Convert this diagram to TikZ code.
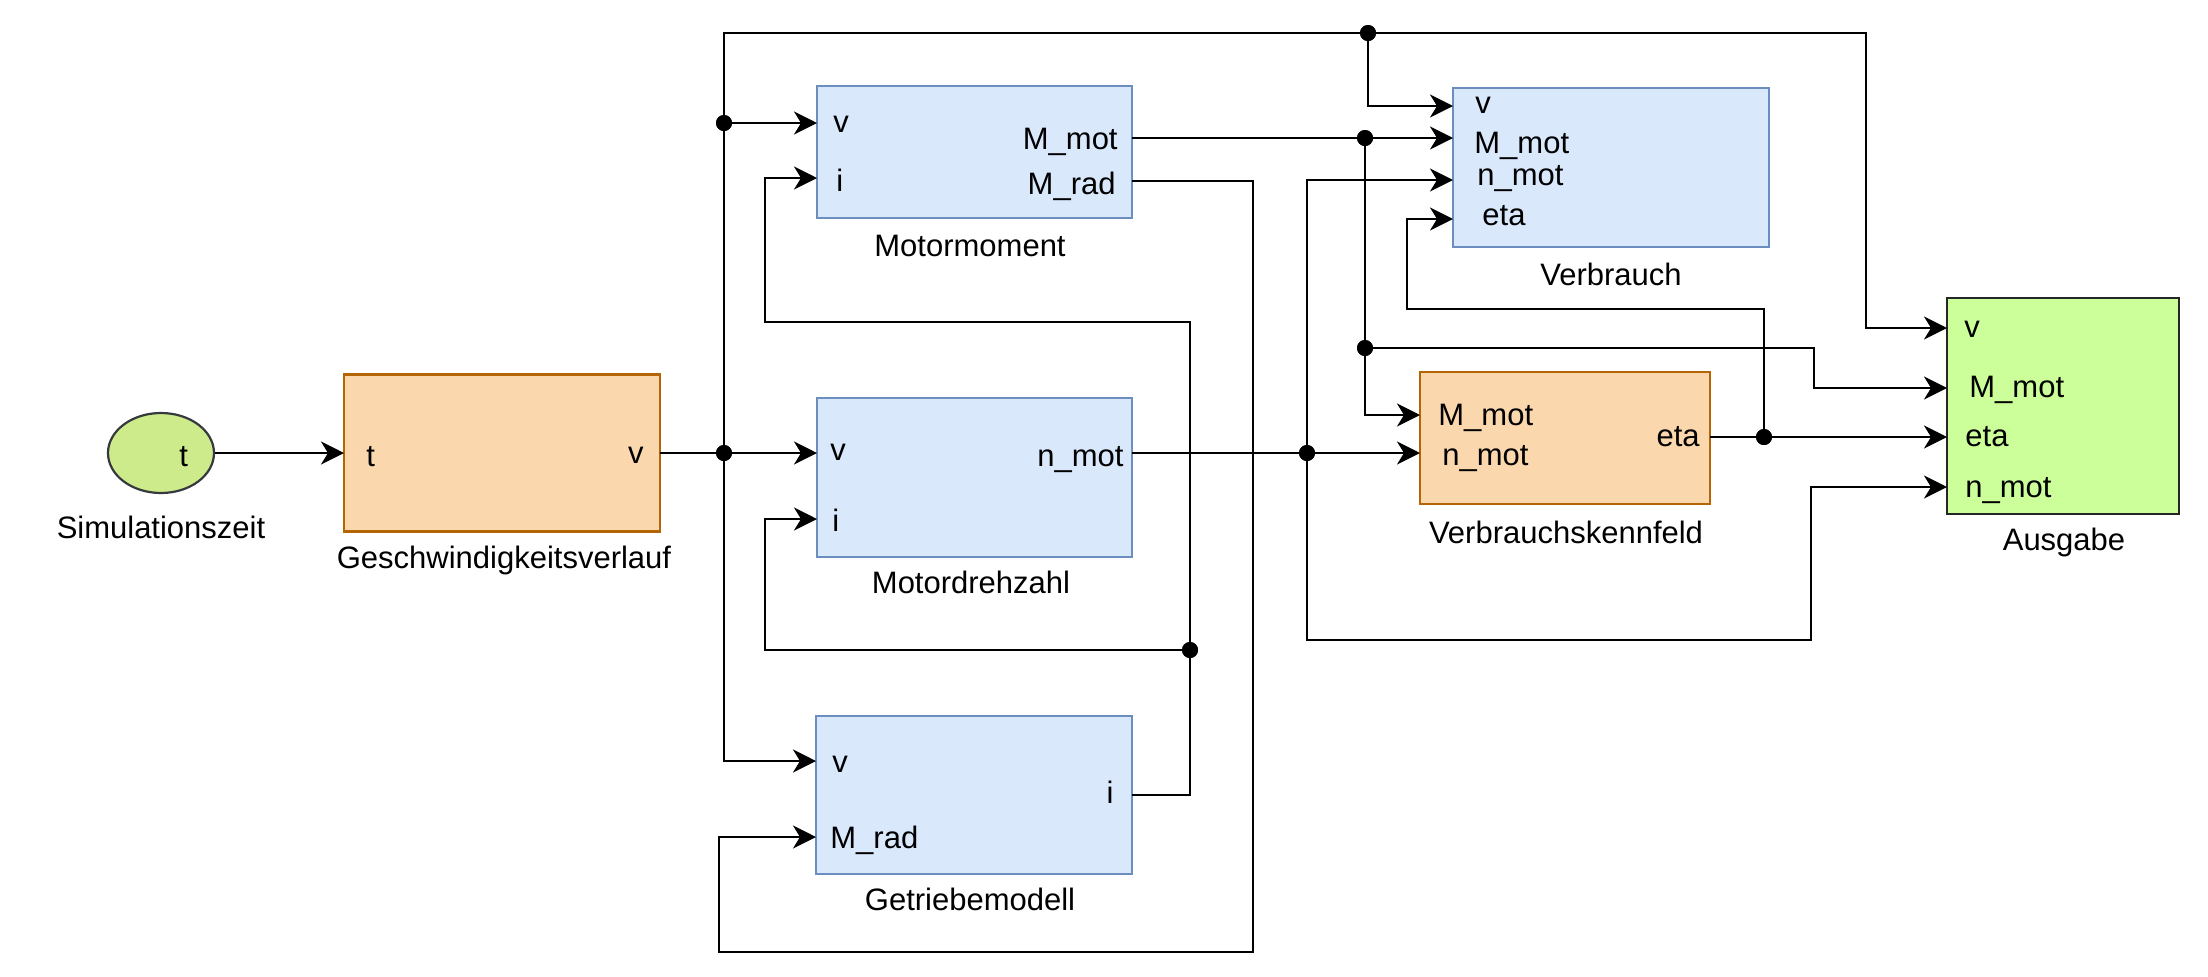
\documentclass[tikz,border=0pt]{standalone}
\usepackage{fontspec}
\setmainfont{Liberation Sans}
\usetikzlibrary{arrows.meta,shapes.geometric}
\definecolor{bluefill}{HTML}{DAE8FC}
\definecolor{bluedraw}{HTML}{6C8EBF}
\definecolor{orfill}{HTML}{FAD7AC}
\definecolor{ordraw}{HTML}{B46504}
\definecolor{elfill}{HTML}{CDEB8B}
\definecolor{eldraw}{HTML}{36393D}
\definecolor{agfill}{HTML}{CCFF99}
\definecolor{agdraw}{HTML}{262626}
\begin{document}
\begin{tikzpicture}[x=0.5pt,y=-0.5pt,
  font=\fontsize{15.5}{18}\selectfont,
  box/.style={rectangle,inner sep=0pt,outer sep=0pt,line width=1.1pt},
  bluebox/.style={box,fill=bluefill,draw=bluedraw},
  orbox/.style={box,fill=orfill,draw=ordraw},
  agbox/.style={box,fill=agfill,draw=agdraw,line width=1.2pt},
  conn/.style={line width=1.15pt,black},
  arr/.style={conn,-{Stealth[length=11.5pt,width=11.5pt,inset=3.5pt]}},
  dot/.style={circle,fill=black,inner sep=0pt,minimum size=8pt},
  lbl/.style={inner sep=0pt,anchor=base},
  lw/.style={inner sep=0pt,anchor=base west},
  le/.style={inner sep=0pt,anchor=base east}]
\useasboundingbox (0,0) rectangle (2208,976);
% blocks
\node[ellipse,fill=elfill,draw=eldraw,line width=1.1pt,minimum width=53pt,minimum height=40pt,inner sep=0pt] (sz) at (161,453) {};
\node[orbox,minimum width=158pt,minimum height=78.5pt] (gv) at (502,453) {};
\node[bluebox,minimum width=157.5pt,minimum height=66pt] (mm) at (974.5,152) {};
\node[bluebox,minimum width=157.5pt,minimum height=79.5pt] (md) at (974.5,477.5) {};
\node[bluebox,minimum width=158pt,minimum height=79pt] (gm) at (974,795) {};
\node[bluebox,minimum width=158pt,minimum height=79.5pt] (vb) at (1611,167.5) {};
\node[orbox,minimum width=145pt,minimum height=66pt] (vk) at (1565,438) {};
\node[agbox,minimum width=116pt,minimum height=108pt] (ag) at (2063,406) {};
% texts
\node[lw] (t-sz) at (179,466) {t};
\node[lbl] (l-sz) at (161,538) {Simulationszeit};
\node[lw] (t-gv-t) at (366,466) {t};
\node[le] (t-gv-v) at (644,463) {v};
\node[lbl] (l-gv) at (504,568) {Geschwindigkeitsverlauf};
\node[lw] (t-mm-v) at (833,132) {v};
\node[lw] (t-mm-i) at (836,191) {i};
\node[le] (t-mm-Mmot) at (1118,149) {M\_mot};
\node[le] (t-mm-Mrad) at (1116,194) {M\_rad};
\node[lbl] (l-mm) at (970,256) {Motormoment};
\node[lw] (t-md-v) at (830,460) {v};
\node[lw] (t-md-i) at (832,531) {i};
\node[le] (t-md-n) at (1124,466) {n\_mot};
\node[lbl] (l-md) at (971,593) {Motordrehzahl};
\node[lw] (t-gm-v) at (832,772) {v};
\node[lw] (t-gm-M) at (830,848) {M\_rad};
\node[le] (t-gm-i) at (1114,803) {i};
\node[lbl] (l-gm) at (970,910) {Getriebemodell};
\node[lw] (t-vb-v) at (1475,113) {v};
\node[lw] (t-vb-M) at (1474,153) {M\_mot};
\node[lw] (t-vb-n) at (1477,185) {n\_mot};
\node[lw] (t-vb-e) at (1482,225) {eta};
\node[lbl] (l-vb) at (1611,285) {Verbrauch};
\node[lw] (t-vk-M) at (1438,425) {M\_mot};
\node[lw] (t-vk-n) at (1442,465) {n\_mot};
\node[le] (t-vk-e) at (1700,446) {eta};
\node[lbl] (l-vk) at (1566,543) {Verbrauchskennfeld};
\node[lw] (t-ag-v) at (1964,337) {v};
\node[lw] (t-ag-M) at (1969,397) {M\_mot};
\node[lw] (t-ag-e) at (1965,446) {eta};
\node[lw] (t-ag-n) at (1965,497) {n\_mot};
\node[lbl] (l-ag) at (2064,550) {Ausgabe};
% ports
\coordinate (mm-v) at (mm.west |- 0,123);
\coordinate (mm-i) at (mm.west |- 0,178);
\coordinate (mm-Mmot) at (mm.east |- 0,138);
\coordinate (mm-Mrad) at (mm.east |- 0,181);
\coordinate (md-v) at (md.west |- 0,453);
\coordinate (md-i) at (md.west |- 0,519);
\coordinate (md-n) at (md.east |- 0,453);
\coordinate (gm-v) at (gm.west |- 0,761);
\coordinate (gm-M) at (gm.west |- 0,837);
\coordinate (gm-i) at (gm.east |- 0,795);
\coordinate (vb-v) at (vb.west |- 0,106);
\coordinate (vb-M) at (vb.west |- 0,138);
\coordinate (vb-n) at (vb.west |- 0,180);
\coordinate (vb-e) at (vb.west |- 0,219);
\coordinate (vk-M) at (vk.west |- 0,415);
\coordinate (vk-n) at (vk.west |- 0,453);
\coordinate (vk-e) at (vk.east |- 0,437);
\coordinate (ag-v) at (ag.west |- 0,328);
\coordinate (ag-M) at (ag.west |- 0,388);
\coordinate (ag-e) at (ag.west |- 0,437);
\coordinate (ag-n) at (ag.west |- 0,487);
% bends
\coordinate (c2) at (1866,33);
\coordinate (c4) at (1814,348);
\coordinate (c5) at (1253,952);
\coordinate (c6) at (719,952);
\coordinate (c8) at (1811,640);
\coordinate (c9) at (1407,309);
\coordinate (c11) at (765,322);
\coordinate (c12) at (765,650);
% junctions
\node[dot] (j0) at (724,453) {};
\node[dot] (j1) at (724,123) {};
\node[dot] (j2) at (1368,33) {};
\node[dot] (j3) at (1365,138) {};
\node[dot] (j4) at (1365,348) {};
\node[dot] (j5) at (1307,453) {};
\node[dot] (j6) at (1764,437) {};
\node[dot] (j7) at (1190,650) {};
% connectors
\draw[arr] (sz.east) -- (gv.west);
\draw[arr] (gv.east) -- (j0.center) -- (md-v);
\draw[arr] (j0.center) |- (c2) |- (ag-v);
\draw[arr] (j0.center) |- (gm-v);
\draw[arr] (j1.center) -- (mm-v);
\draw[arr] (j2.center) |- (vb-v);
\draw[arr] (mm-Mmot) -- (j3.center) -- (vb-M);
\draw[arr] (j3.center) |- (vk-M);
\draw[arr] (j4.center) -- (c4) |- (ag-M);
\draw[arr] (mm-Mrad) -| (c5) -- (c6) |- (gm-M);
\draw[arr] (md-n) -- (j5.center) -- (vk-n);
\draw[arr] (j5.center) |- (vb-n);
\draw[arr] (j5.center) |- (c8) |- (ag-n);
\draw[arr] (vk-e) -- (j6.center) -- (ag-e);
\draw[arr] (j6.center) |- (c9) |- (vb-e);
\draw[arr] (gm-i) -| (j7.center) |- (c11) |- (mm-i);
\draw[arr] (j7.center) -- (c12) |- (md-i);
% redraw dots on top
\foreach \j in {j0,j1,j2,j3,j4,j5,j6,j7} \fill (\j) circle (4pt);
\end{tikzpicture}
\end{document}
